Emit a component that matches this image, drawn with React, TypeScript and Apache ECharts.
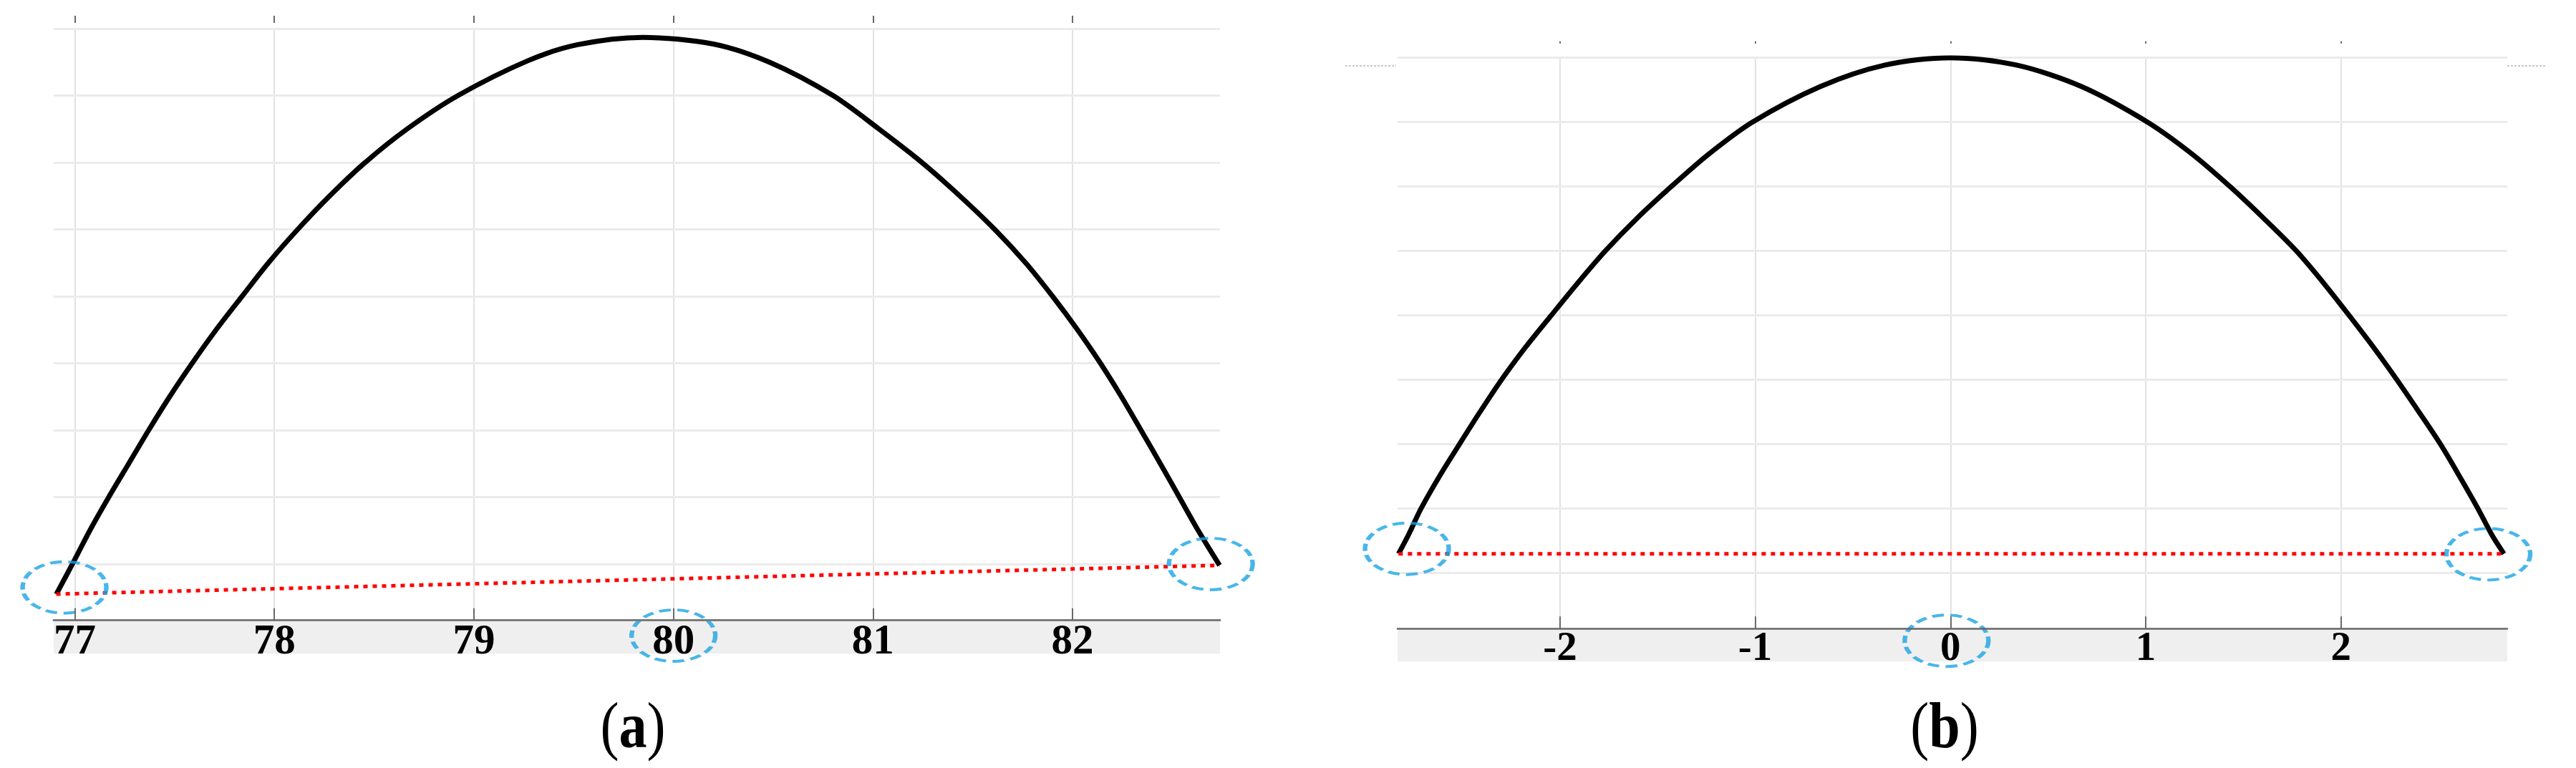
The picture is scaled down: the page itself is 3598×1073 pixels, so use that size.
import React, { useEffect, useRef } from 'react';
import * as echarts from 'echarts';

// ---------- data: panel (a) ----------
const ticksA = [77, 78, 79, 80, 81, 82];
const hLinesA = [1, 2, 3, 4, 5, 6, 7, 8, 9];
const xRangeA = [76.894, 82.739];
const yRangeA = [0.158, 9];
const curveAX = [76.907, 76.988, 77.075, 77.17, 77.27, 77.37, 77.475, 77.588, 77.708, 77.838, 77.97, 78.117, 78.277, 78.455, 78.665, 78.92, 79.27, 79.52, 79.846, 80.2, 80.48, 80.8, 81.03, 81.245, 81.435, 81.61, 81.765, 81.9, 82.025, 82.14, 82.245, 82.343, 82.44, 82.535, 82.63, 82.737];
const curveAY = [0.55, 1.0, 1.5, 2.0, 2.5, 3.0, 3.5, 4.0, 4.5, 5.0, 5.5, 6.0, 6.5, 7.0, 7.5, 8.0, 8.52, 8.76, 8.87, 8.77, 8.5, 8.0, 7.5, 7.0, 6.5, 6.0, 5.5, 5.0, 4.5, 4.0, 3.5, 3.0, 2.5, 2.0, 1.5, 0.98];
const chordAX = [76.907, 82.737];
const chordAY = [0.55, 0.98];
const circleAX = [76.948, 80.0, 82.693];
const circleAY = [0.65, -0.07, 1.0];

// ---------- data: panel (b) ----------
const ticksB = [-2, -1, 0, 1, 2];
const hLinesB = [1, 2, 3, 4, 5, 6, 7, 8, 9];
const xRangeB = [-2.832, 2.852];
const yRangeB = [0.138, 9];
const curveBX = [-2.827, -2.775, -2.712, -2.618, -2.515, -2.41, -2.3, -2.178, -2.045, -1.91, -1.768, -1.608, -1.43, -1.24, -1.015, -0.665, -0.335, 0.0, 0.338, 0.67, 1.01, 1.24, 1.432, 1.607, 1.772, 1.912, 2.042, 2.168, 2.287, 2.4, 2.51, 2.608, 2.702, 2.772, 2.835];
const curveBY = [1.3, 1.6, 2.0, 2.5, 3.0, 3.5, 4.0, 4.5, 5.0, 5.5, 6.0, 6.5, 7.0, 7.5, 8.0, 8.555, 8.887, 9.0, 8.887, 8.555, 8.0, 7.5, 7.0, 6.5, 6.0, 5.5, 5.0, 4.5, 4.0, 3.5, 3.0, 2.5, 2.0, 1.6, 1.3];
const chordBX = [-2.827, 2.835];
const chordBY = [1.3, 1.3];
const circleBX = [-2.784, -0.02, 2.755];
const circleBY = [1.378, -0.05, 1.293];

// ---------- layout / style ----------
const GA = { left: 75, top: 40, width: 1629, height: 826.7 };
const GB = { left: 1952, top: 80.7, width: 1550, height: 797.6 };
const SERIF = 'Liberation Serif, Times New Roman, serif';
const BLUE = '#1ba4e4';

const zip = (xs: number[], ys: number[]) => xs.map((x, i) => [x, ys[i]]);

function gridLinesSeries(idx: number, ticks: number[], hLines: number[], anchor: number[]) {
  return {
    type: 'line',
    xAxisIndex: idx * 2,
    yAxisIndex: idx,
    data: [anchor],
    showSymbol: false,
    silent: true,
    lineStyle: { width: 0 },
    z: 1,
    markLine: {
      silent: true,
      z: 1,
      animation: false,
      symbol: ['none', 'none'],
      label: { show: false },
      data: [
        ...ticks.map((v) => ({ xAxis: v, lineStyle: { color: '#e2e2e2', width: 2, type: 'solid' } })),
        ...hLines.map((v) => ({ yAxis: v, lineStyle: { color: '#ebebeb', width: 3, type: 'solid' } })),
      ],
    },
  };
}

function bottomAxis(gridIndex: number, range: number[], ticks: number[], fontSize: number, margin: number, lineColor: string, lineWidth: number) {
  return {
    type: 'value',
    gridIndex,
    position: 'bottom',
    min: range[0],
    max: range[1],
    z: 10,
    axisLine: { show: true, onZero: false, lineStyle: { color: lineColor, width: lineWidth } },
    axisTick: { show: true, inside: true, length: 17, customValues: ticks, lineStyle: { color: '#6a6a6a', width: 2 } },
    axisLabel: {
      show: true,
      customValues: ticks,
      fontFamily: SERIF,
      fontWeight: 'bold',
      fontSize,
      color: '#000',
      verticalAlign: 'middle',
      margin,
    },
    splitLine: { show: false },
  };
}

function topAxis(gridIndex: number, range: number[], ticks: number[], offset: number, length: number) {
  return {
    type: 'value',
    gridIndex,
    position: 'top',
    min: range[0],
    max: range[1],
    offset,
    z: 10,
    axisLine: { show: false },
    axisTick: { show: true, inside: false, length, customValues: ticks, lineStyle: { color: '#666', width: 2 } },
    axisLabel: { show: false },
    splitLine: { show: false },
  };
}

function hiddenY(gridIndex: number, range: number[]) {
  return {
    type: 'value',
    gridIndex,
    min: range[0],
    max: range[1],
    axisLine: { show: false },
    axisTick: { show: false },
    axisLabel: { show: false },
    splitLine: { show: false },
  };
}

function panelSeries(idx: number, cx: number[], cy: number[], chX: number[], chY: number[], ciX: number[], ciY: number[]) {
  return [
    {
      type: 'line',
      xAxisIndex: idx * 2,
      yAxisIndex: idx,
      data: zip(cx, cy),
      smooth: 0.3,
      showSymbol: false,
      lineStyle: { color: '#000', width: 7, join: 'round', cap: 'butt' },
      z: 3,
    },
    {
      type: 'line',
      xAxisIndex: idx * 2,
      yAxisIndex: idx,
      data: zip(chX, chY),
      showSymbol: false,
      lineStyle: { color: '#ff0000', width: 5, type: [6, 7] },
      z: 4,
    },
    {
      type: 'scatter',
      xAxisIndex: idx * 2,
      yAxisIndex: idx,
      data: zip(ciX, ciY),
      symbol: 'circle',
      symbolSize: [117, 72],
      clip: false,
      itemStyle: { color: 'rgba(0,0,0,0)', borderColor: BLUE, borderWidth: 5, borderType: [13, 7] },
      z: 5,
    },
  ];
}

function caption(x: number, letter: string) {
  return {
    type: 'text',
    x,
    y: 1013,
    scaleX: 0.85,
    z: 0,
    style: {
      text: `{p|(}{b|${letter}}{p|)}`,
      align: 'center',
      verticalAlign: 'middle',
      textAlign: 'center',
      textVerticalAlign: 'middle',
      fill: '#000',
      rich: {
        p: { fontFamily: SERIF, fontSize: 92, fontWeight: 'normal', fill: '#000' },
        b: { fontFamily: SERIF, fontSize: 92, fontWeight: 'bold', fill: '#000' },
      },
    },
  };
}

export default function App() {
  const ref = useRef<HTMLDivElement>(null);
  useEffect(() => {
    if (!ref.current) return;
    const chart = echarts.init(ref.current, undefined, { renderer: 'svg' });
    const option: any = {
      animation: false,
      backgroundColor: '#ffffff',
      grid: [
        { ...GA, containLabel: false, outerBoundsMode: 'none' },
        { ...GB, containLabel: false, outerBoundsMode: 'none' },
      ],
      xAxis: [
        bottomAxis(0, xRangeA, ticksA, 59, 26.3, '#7a7a7a', 3),
        topAxis(0, xRangeA, ticksA, 8, 10),
        bottomAxis(1, xRangeB, ticksB, 57, 24.2, '#666666', 2.5),
        topAxis(1, xRangeB, ticksB, 20, 3),
      ],
      yAxis: [hiddenY(0, yRangeA), hiddenY(1, yRangeB)],
      graphic: [
        { type: 'rect', z: 0, silent: true, shape: { x: GA.left, y: GA.top + GA.height + 1.5, width: GA.width, height: 45 }, style: { fill: '#efefef' } },
        { type: 'rect', z: 0, silent: true, shape: { x: GB.left, y: GB.top + GB.height + 1, width: GB.width, height: 45 }, style: { fill: '#efefef' } },
        { type: 'line', z: 0, silent: true, shape: { x1: GB.left - 73, y1: 92, x2: GB.left - 2, y2: 92 }, style: { stroke: '#c8c8c8', lineWidth: 2, lineDash: [3, 2] } },
        { type: 'line', z: 0, silent: true, shape: { x1: GB.left + GB.width, y1: 92, x2: GB.left + GB.width + 53, y2: 92 }, style: { stroke: '#c8c8c8', lineWidth: 2, lineDash: [3, 2] } },
        caption(884, 'a'),
        caption(2716, 'b'),
      ],
      series: [
        gridLinesSeries(0, ticksA, hLinesA, [ticksA[0], hLinesA[0]]),
        gridLinesSeries(1, ticksB, hLinesB, [ticksB[0], hLinesB[0]]),
        ...panelSeries(0, curveAX, curveAY, chordAX, chordAY, circleAX, circleAY),
        ...panelSeries(1, curveBX, curveBY, chordBX, chordBY, circleBX, circleBY),
      ],
    };
    chart.setOption(option);
    return () => chart.dispose();
  }, []);
  return (
    <div
      ref={ref}
      style={{ position: 'fixed', left: 0, top: 0, width: 3598, height: 1073, background: '#fff' }}
    />
  );
}
